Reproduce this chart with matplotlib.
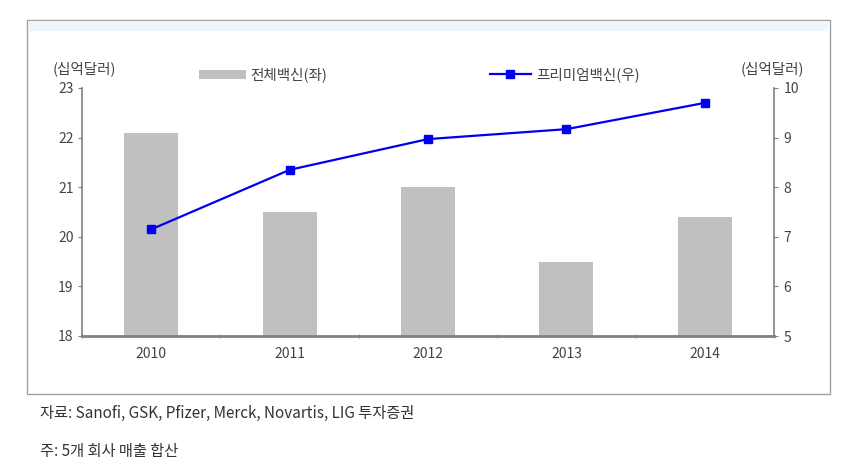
import matplotlib
matplotlib.use("Agg")
import matplotlib.pyplot as plt
from matplotlib.patches import Rectangle, Patch
from matplotlib.lines import Line2D
import numpy as np

plt.rcParams['font.family'] = ['Noto Sans CJK KR', 'DejaVu Sans']

years = ['2010', '2011', '2012', '2013', '2014']
total_vaccine = [22.1, 20.5, 21.0, 19.5, 20.4]
premium_vaccine = [7.15, 8.35, 8.97, 9.17, 9.70]
left_ticks = [18, 19, 20, 21, 22, 23]
right_ticks = [5, 6, 7, 8, 9, 10]
unit_label = '(십억달러)'
bar_label = '전체백신(좌)'
line_label = '프리미엄백신(우)'
source_note = '자료: Sanofi, GSK, Pfizer, Merck, Novartis, LIG 투자증권'
sum_note = '주: 5개 회사 매출 합산'

W, H = 844, 473
fig = plt.figure(figsize=(W / 100, H / 100), dpi=100)
fig.patch.set_facecolor('white')

def fx(px):
    return px / W

def fy(py):
    return 1 - py / H

# outer frame with light-blue top band
fig.patches.append(Rectangle((fx(27), fy(394)), fx(830) - fx(27), fy(20) - fy(394),
                             transform=fig.transFigure, facecolor='white',
                             edgecolor='#a0a0a0', linewidth=1.0, zorder=-2))
fig.patches.append(Rectangle((fx(29), fy(31)), fx(828) - fx(29), fy(21) - fy(31),
                             transform=fig.transFigure, facecolor='#eef6fd',
                             edgecolor='none', zorder=-1))

TICK_FS = 10
TXT_FS = 10.5

ax = fig.add_axes([fx(82), fy(336), fx(774) - fx(82), fy(88) - fy(336)])
ax.set_facecolor('none')
x = np.arange(len(years))
ax.bar(x, total_vaccine, width=0.39, color='#c0c0c0', zorder=2)
ax.set_ylim(18, 23)
ax.set_xlim(-0.5, len(years) - 0.5)
ax.set_yticks(left_ticks)
ax.set_xticks(x)
ax.set_xticklabels(years)
ax.set_xticks(np.arange(len(years) + 1) - 0.5, minor=True)
ax.tick_params(axis='x', which='major', length=0, pad=8, labelsize=TICK_FS, labelcolor='#444444')
ax.tick_params(axis='x', which='minor', length=3, direction='inout', color='#808080')
ax.tick_params(axis='y', length=3, direction='out', color='#808080', labelsize=TICK_FS,
               labelcolor='#444444', pad=3)
for s in ['top', 'right']:
    ax.spines[s].set_visible(False)
ax.spines['left'].set_color('#808080')
ax.spines['bottom'].set_color('#808080')
ax.spines['bottom'].set_linewidth(2)
ax.spines['left'].set_linewidth(1.2)

ax2 = ax.twinx()
ax2.set_facecolor('none')
ax2.plot(x, premium_vaccine, color='#0000ee', linewidth=1.6, marker='s',
         markersize=5.5, markerfacecolor='#0000ee', markeredgecolor='#0000ee', zorder=3)
ax2.set_ylim(5, 10)
ax2.set_yticks(right_ticks)
ax2.tick_params(axis='y', length=3, direction='out', color='#808080', labelsize=TICK_FS,
                labelcolor='#444444', pad=4)
for s in ['top', 'left', 'bottom']:
    ax2.spines[s].set_visible(False)
ax2.spines['right'].set_color('#808080')
ax2.spines['right'].set_linewidth(1.2)

# unit labels
fig.text(fx(84), fy(69), unit_label, ha='center', va='center', fontsize=TXT_FS, color='#444444')
fig.text(fx(772), fy(69), unit_label, ha='center', va='center', fontsize=TXT_FS, color='#444444')

# legends
leg1 = fig.legend(handles=[Patch(facecolor='#c0c0c0', edgecolor='none', label=bar_label)],
                  loc='center left', bbox_to_anchor=(fx(199), fy(75)), frameon=False,
                  borderpad=0, borderaxespad=0, handlelength=3.2, handleheight=0.6,
                  handletextpad=0.3, fontsize=TXT_FS, labelcolor='#444444')
leg2 = fig.legend(handles=[Line2D([0], [0], color='#0000ee', linewidth=1.6, marker='s',
                                  markersize=5.5, label=line_label)],
                  loc='center left', bbox_to_anchor=(fx(490), fy(75)), frameon=False,
                  borderpad=0, borderaxespad=0, handlelength=2.8,
                  handletextpad=0.35, fontsize=TXT_FS, labelcolor='#444444')

# notes
fig.text(fx(40), fy(413), source_note, ha='left', va='center', fontsize=11, color='#333333')
fig.text(fx(40), fy(451), sum_note, ha='left', va='center', fontsize=11, color='#333333')

fig.savefig('out.png', dpi=100, facecolor='white')
